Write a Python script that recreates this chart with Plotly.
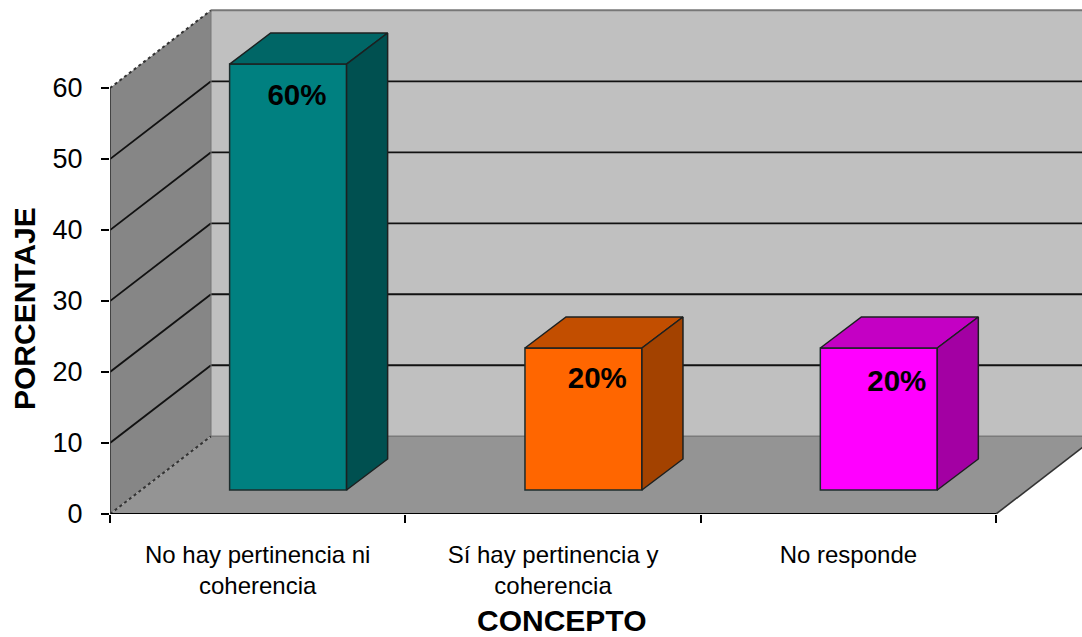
import plotly.graph_objects as go

categories = ["No hay pertinencia ni<br>coherencia", "Sí hay pertinencia y<br>coherencia", "No responde"]
values = [60, 20, 20]
point_labels = ["60%", "20%", "20%"]
front_colors = ["#008080", "#FF6600", "#FF00FF"]
top_colors = ["#006666", "#C24E00", "#C400C4"]
side_colors = ["#005050", "#A34200", "#A300A3"]
y_ticks = [0, 10, 20, 30, 40, 50, 60]

# projection of the pseudo-3D box, in axis units
DX, DY = 0.342, 10.95
BAR_DX, BAR_DY = 0.139, 4.37
BASE = 3.38
BAR_W = 0.396
BAR_SHIFT = 0.103
XMAX, YMAX = 3.291, 72.4
N = len(categories)
BLACK = "#111111"
FONT = "Liberation Sans, Arial, sans-serif"


def poly(pts, fill, line="rgba(0,0,0,0)", w=0):
    path = "M " + " L ".join(f"{x},{y}" for x, y in pts) + " Z"
    return dict(type="path", path=path, fillcolor=fill, line=dict(color=line, width=w),
                layer="below", xref="x", yref="y")


def seg(x0, y0, x1, y1, color=BLACK, width=1.8, dash="solid"):
    return dict(type="line", x0=x0, y0=y0, x1=x1, y1=y1, line=dict(color=color, width=width, dash=dash),
                layer="below", xref="x", yref="y")


top = max(y_ticks)
shapes = [
    poly([(DX, DY), (N + DX, DY), (N + DX, top + DY), (DX, top + DY)], "#C0C0C0"),
    poly([(0, 0), (DX, DY), (DX, top + DY), (0, top)], "#868686"),
    poly([(0, 0), (N, 0), (N + DX, DY), (DX, DY)], "#949494"),
]
for v in y_ticks[1:-1]:
    shapes.append(seg(0, v, DX, v + DY))
    shapes.append(seg(DX, v + DY, N + DX, v + DY))
shapes += [
    seg(DX, top + DY, N + DX, top + DY, "#777777", 2),
    seg(0, top, DX, top + DY, "#333333", 2, "dot"),
    seg(0, 0, DX, DY, "#333333", 2, "dot"),
    seg(DX, DY, N + DX, DY, "#7a7a7a", 1.5),
    seg(DX, DY, DX, top + DY, "#777777", 1),
    seg(N, 0, N + DX, DY, "#333333", 1.6),
    seg(0, 0, N, 0, "#000000", 2),
    seg(0, 0, 0, top, "#333333", 1.6),
]

fig = go.Figure()
centers = [i + 0.5 for i in range(N)]
lefts = [c + BAR_SHIFT - BAR_W / 2 for c in centers]
rights = [c + BAR_SHIFT + BAR_W / 2 for c in centers]

fig.add_trace(go.Bar(
    x=[c + BAR_SHIFT for c in centers], y=values, base=BASE, width=BAR_W,
    marker=dict(color=front_colors, line=dict(color="#1c2c2c", width=1.5)),
    hoverinfo="skip", showlegend=False,
))
for i, v in enumerate(values):
    t = BASE + v
    l, r = lefts[i], rights[i]
    fig.add_trace(go.Scatter(
        x=[l, l + BAR_DX, r + BAR_DX, r, l], y=[t, t + BAR_DY, t + BAR_DY, t, t],
        mode="lines", fill="toself", fillcolor=top_colors[i],
        line=dict(color="#1c2020", width=1.5), hoverinfo="skip", showlegend=False))
    fig.add_trace(go.Scatter(
        x=[r, r + BAR_DX, r + BAR_DX, r, r], y=[t, t + BAR_DY, BASE + BAR_DY, BASE, t],
        mode="lines", fill="toself", fillcolor=side_colors[i],
        line=dict(color="#1c2020", width=1.5), hoverinfo="skip", showlegend=False))

label_x = [0.633, 1.65, 2.664]
label_y = [58.6, 18.85, 18.3]
fig.add_trace(go.Scatter(
    x=label_x, y=label_y, mode="text", text=point_labels,
    textfont=dict(family=FONT, size=29.5, color="#000000"),
    texttemplate="<b>%{text}</b>", hoverinfo="skip", showlegend=False))

fig.update_layout(
    width=1082, height=637, margin=dict(l=110, r=0, t=0, b=123),
    paper_bgcolor="#FFFFFF", plot_bgcolor="#FFFFFF", shapes=shapes, showlegend=False,
    font=dict(family=FONT, color="#000000"),
    xaxis=dict(range=[0, XMAX], tickmode="array", tickvals=centers, ticktext=categories,
               ticks="", showgrid=False, zeroline=False, showline=False,
               tickfont=dict(size=24, family=FONT), tickangle=0, ticklabelstandoff=24,
               minor=dict(tickmode="array", tickvals=list(range(N + 1)), ticks="outside", ticklen=8,
                          tickwidth=2, tickcolor="#000000", showgrid=False)),
    yaxis=dict(range=[0, YMAX], tickmode="array", tickvals=y_ticks, ticks="outside", ticklen=8,
               tickwidth=2, tickcolor="#000000", showgrid=False, zeroline=False, showline=False,
               tickfont=dict(size=27, family=FONT), ticklabelstandoff=13),
    annotations=[
        dict(text="<b>PORCENTAJE</b>", textangle=-90, xref="paper", yref="paper",
             x=-0.1069, y=0.40, showarrow=False, font=dict(size=30, family=FONT)),
        dict(text="<b>CONCEPTO</b>", xref="paper", yref="paper", x=0.465, y=-0.244,
             showarrow=False, font=dict(size=30, family=FONT)),
    ],
)

fig.write_html("out.html", config=dict(displayModeBar=False),
               post_script="document.body.style.margin='0';")
